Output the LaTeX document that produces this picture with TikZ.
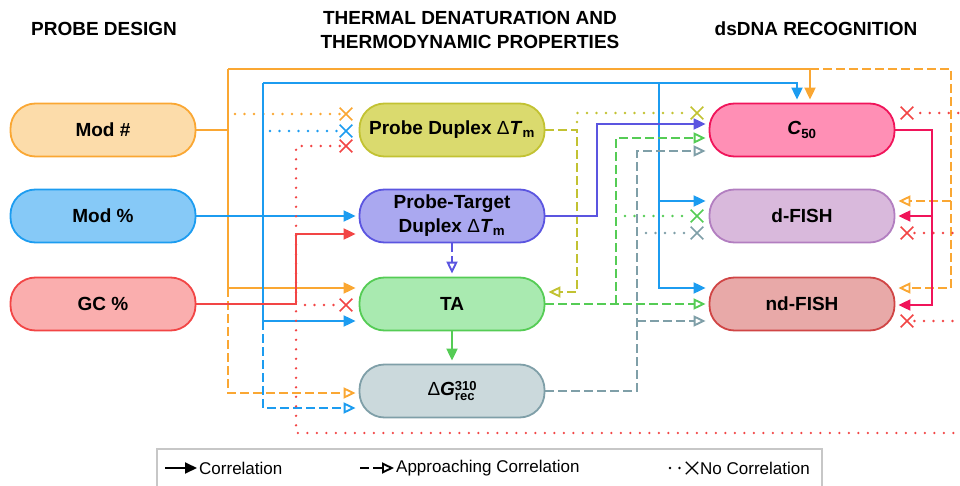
\documentclass[tikz,border=0pt]{standalone}
\usepackage{fontspec}
\setmainfont{Liberation Sans}
\usetikzlibrary{positioning,calc,arrows.meta,shapes.misc}
\definecolor{orng}{HTML}{FAA733}
\definecolor{orngfill}{HTML}{FCDCAA}
\definecolor{blu}{HTML}{1C9CF0}
\definecolor{blufill}{HTML}{86C9F7}
\definecolor{rd}{HTML}{F24545}
\definecolor{rdfill}{HTML}{FAAEAE}
\definecolor{olv}{HTML}{C2C232}
\definecolor{olvfill}{HTML}{DADA6E}
\definecolor{ind}{HTML}{5B55E0}
\definecolor{indfill}{HTML}{AAA8F0}
\definecolor{grn}{HTML}{55CC55}
\definecolor{grnfill}{HTML}{A9EAB0}
\definecolor{gry}{HTML}{7F9FA8}
\definecolor{gryfill}{HTML}{CBD9DC}
\definecolor{crm}{HTML}{F0145A}
\definecolor{crmfill}{HTML}{FF8FB5}
\definecolor{dfsh}{HTML}{B27EC0}
\definecolor{dfshfill}{HTML}{D9B9DC}
\definecolor{ndfsh}{HTML}{D04545}
\definecolor{ndfshfill}{HTML}{E8A9A8}
\newcommand{\dT}{{\mdseries Δ}\textit{T}\textsubscript{m}}
\newcommand{\scr}[1]{{\fontsize{13}{13}\selectfont #1}}
\newcommand{\dGrec}{{\mdseries Δ}\textit{G}\rlap{\raisebox{4.6pt}{\scr{310}}}\raisebox{-5pt}{\scr{rec}}\hspace{2pt}}

\begin{document}
\begin{tikzpicture}[x=1pt,y=-1pt,font=\fontsize{19}{24}\selectfont\bfseries]
  \tikzset{
    pill/.style={draw,rounded corners=25pt,minimum width=185pt,minimum height=53pt,
                 line width=1.8pt,align=center,inner sep=2pt},
    link/.style={line width=1.9pt},
    cor/.style={link,-{Triangle[length=12pt,width=11pt]},shorten >=3pt},
    apr/.style={link,dash pattern=on 9pt off 4pt,
                -{Triangle[open,length=12pt,width=11pt]},shorten >=3pt},
    nocor/.style={line width=2.6pt,line cap=round,dash pattern=on 0pt off 9.5pt},
    xmk/.style={cross out,draw,minimum size=11pt,inner sep=0pt,line width=1.6pt},
  }
  \useasboundingbox (0,0) rectangle (960,486);
  % ---- headings ----
  \node (hprobe) at (104,29) {PROBE DESIGN};
  \node[align=center] (htherm) at (470,30) {THERMAL DENATURATION AND\\THERMODYNAMIC PROPERTIES};
  \node (hdsdna) at (816,29) {dsDNA RECOGNITION};
  % ---- boxes ----
  \node[pill,draw=orng,fill=orngfill] (modnum) at (103,130) {Mod \#};
  \node[pill,draw=blu,fill=blufill] (modpct) at (103,216) {Mod \%};
  \node[pill,draw=rd,fill=rdfill] (gcpct) at (103,304) {GC \%};
  \node[pill,draw=olv,fill=olvfill] (pdtm) at (452,130) {Probe Duplex \dT};
  \node[pill,draw=ind,fill=indfill] (pttm) at (452,216) {Probe-Target\\Duplex \dT};
  \node[pill,draw=grn,fill=grnfill] (ta) at (452,304) {TA};
  \node[pill,draw=gry,fill=gryfill] (dg) at (452,391) {\dGrec};
  \node[pill,draw=crm,fill=crmfill] (cfifty) at (802,130) {\textit{C}\textsubscript{50}};
  \node[pill,draw=dfsh,fill=dfshfill] (dfish) at (802,216) {d-FISH};
  \node[pill,draw=ndfsh,fill=ndfshfill] (ndfish) at (802,304) {nd-FISH};
  % ---- no-correlation marks ----
  \node[xmk,orng] (xpdo) at (346,114) {};
  \node[xmk,blu] (xpdb) at (346,131) {};
  \node[xmk,rd] (xpdr) at (346,146) {};
  \node[xmk,rd] (xtar) at (346,305) {};
  \node[xmk,olv] (xcfo) at (697,113) {};
  \node[xmk,grn] (xdfg) at (697,216) {};
  \node[xmk,gry] (xdfy) at (697,233) {};
  \node[xmk,rd] (xcfr) at (907,113) {};
  \node[xmk,rd] (xdfr) at (907,233) {};
  \node[xmk,rd] (xndr) at (907,321) {};
  % ---- Mod # ----
  \draw[link,orng] (modnum.east) -- (228,130);
  \draw[cor,orng] (228,69) -- (228,288) -- (ta.west |- 0,288);
  \draw[cor,orng] (228,69) -- (810,69) -- (cfifty.north -| 810,0);
  \draw[apr,orng] (810,69) -- (951,69) -- (951,288) -- (ndfish.east |- 0,288);
  \draw[apr,orng] (951,201) -- (dfish.east |- 0,201);
  \draw[apr,orng] (228,288) -- (228,393) -- (dg.west |- 0,393);
  \draw[nocor,orng] (235,114) -- (xpdo);
  % ---- Mod % ----
  \draw[cor,blu] (modpct.east) -- (pttm.west);
  \draw[cor,blu] (263,83) -- (263,321) -- (ta.west |- 0,321);
  \draw[cor,blu] (263,83) -- (797,83) -- (cfifty.north -| 797,0);
  \draw[cor,blu] (659,83) -- (659,288) -- (ndfish.west |- 0,288);
  \draw[cor,blu] (659,201) -- (dfish.west |- 0,201);
  \draw[apr,blu] (263,321) -- (263,408) -- (dg.west |- 0,408);
  \draw[nocor,blu] (270,131) -- (xpdb);
  % ---- GC % ----
  \draw[cor,rd] (gcpct.east) -- (296,304) -- (296,234) -- (pttm.west |- 0,234);
  \draw[nocor,rd] (305,305) -- (xtar);
  \draw[nocor,rd] (xpdr) -- (296,146) -- (296,433) -- (962,433) -- (962,113) -- (xcfr);
  \draw[nocor,rd] (962,233) -- (xdfr);
  \draw[nocor,rd] (962,321) -- (xndr);
  % ---- Probe Duplex ----
  \draw[apr,olv] (pdtm.east) -- (577,130) -- (577,292) -- (ta.east |- 0,292);
  \draw[nocor,olv] (577,122) -- (577,113) -- (xcfo);
  % ---- Probe-Target Duplex ----
  \draw[cor,ind] (pttm.east) -- (597,216) -- (597,124) -- (cfifty.west |- 0,124);
  \draw[apr,ind] (pttm.south) -- (ta.north);
  % ---- TA ----
  \draw[cor,grn] (ta.south) -- (dg.north);
  \draw[apr,grn] (ta.east) -- (ndfish.west);
  \draw[apr,grn] (616,304) -- (616,138) -- (cfifty.west |- 0,138);
  \draw[nocor,grn] (625,216) -- (xdfg);
  % ---- dG ----
  \draw[apr,gry] (dg.east) -- (637,391) -- (637,151) -- (cfifty.west |- 0,151);
  \draw[apr,gry] (637,321) -- (ndfish.west |- 0,321);
  \draw[nocor,gry] (646,233) -- (xdfy);
  % ---- C50 ----
  \draw[cor,crm] (cfifty.east) -- (932,130) -- (932,305) -- (ndfish.east |- 0,305);
  \draw[cor,crm] (932,216) -- (dfish.east);
  % ---- legend ----
  \draw[black!22,line width=1.6pt] (157,490) -- (157,449) -- (822,449) -- (822,490);
  \begin{scope}[font=\fontsize{17}{20}\selectfont\mdseries]
    \coordinate (lgcs) at (165,468);
    \coordinate (lgce) at (197,468);
    \draw[cor,black,shorten >=0pt] (lgcs) -- (lgce);
    \node[anchor=west,inner sep=2pt] (lgct) at (lgce) {Correlation};
    \coordinate (lgas) at (360,468);
    \coordinate (lgae) at (394,468);
    \draw[apr,black,shorten >=0pt] (lgas) -- (lgae);
    \node[anchor=west,inner sep=2pt] (lgat) at (lgae) {Approaching Correlation};
    \node[xmk,black,minimum size=11pt,line width=1.3pt] (lgnx) at (692,468) {};
    \draw[nocor,black] (670,468) -- (lgnx);
    \node[anchor=west,inner sep=2pt] (lgnt) at (698,468) {No Correlation};
  \end{scope}
\end{tikzpicture}
\end{document}
